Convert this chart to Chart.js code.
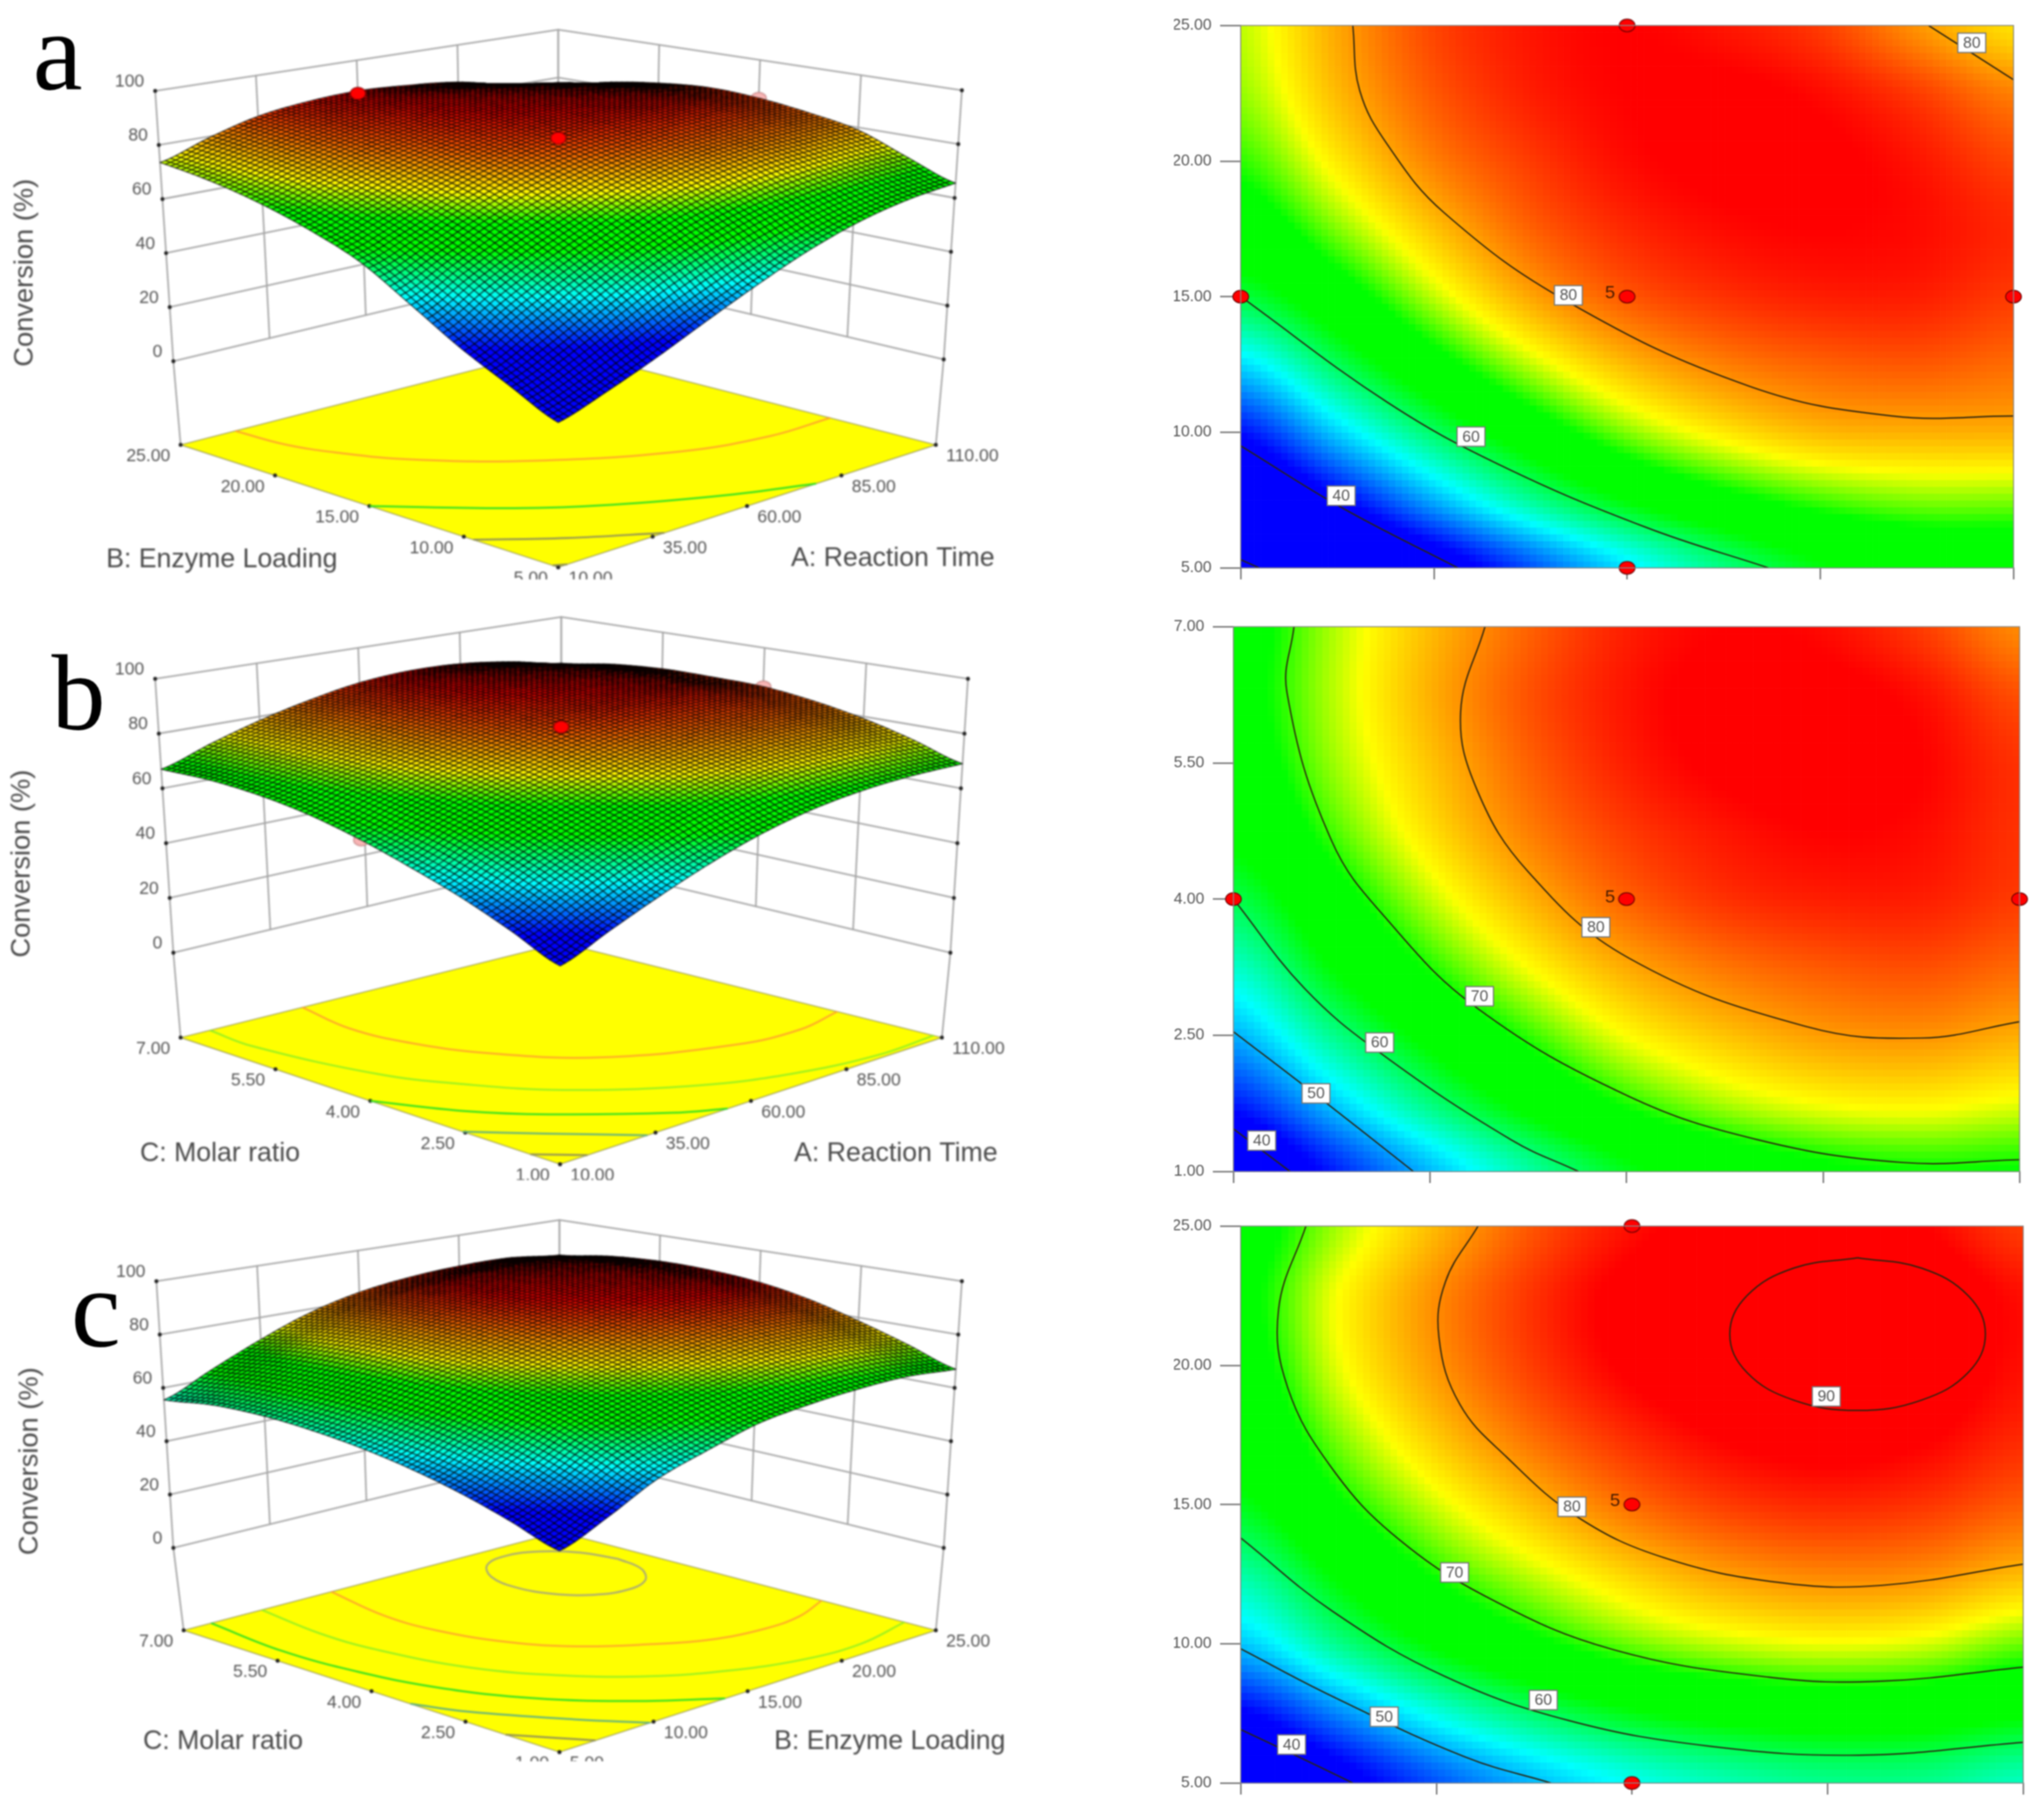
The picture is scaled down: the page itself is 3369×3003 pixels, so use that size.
<!DOCTYPE html>
<html><head><meta charset="utf-8">
<script src="https://cdn.jsdelivr.net/npm/chart.js@4"></script>
<style>
html,body{margin:0;padding:0;background:#fff}
#stage{position:relative;width:3369px;height:3003px;background:#fff;overflow:hidden}
canvas{position:absolute;display:block}
canvas.flat{filter:blur(1.1px)}
canvas.solid{filter:blur(1.7px)}
.tag{position:absolute;font-family:"Liberation Serif",serif;line-height:1;color:#000;filter:blur(1px)}
</style></head><body><div id="stage"></div>
<script>
// ---------- values ----------
const timeTicks   = [10,35,60,85,110];
const enzymeTicks = [5,10,15,20,25];
const molarTicks  = [1,2.5,4,5.5,7];
const conversionTicks = [0,20,40,60,80,100];

// Conversion (%) read at nine evenly spaced stops of each plot axis; one row per y stop (low to high), x stops left to right
const surfaceA = [
 [29,33.5,39,45.5,52,58,62.5,65,65.5],
 [35.5,41.5,49.5,57,63,67.5,70.5,72,72],
 [42.5,51,59,66,72,76,78.5,79,79],
 [51.5,59.5,67,73.5,78.5,81.5,83,83.5,82.5],
 [60.5,66.5,73.5,79.5,83.5,85.5,86.5,86.5,85],
 [66,72,78,83,86,87.5,88,87.5,86],
 [70,76,81.5,85,87.5,88.5,88.5,87,84.5],
 [72.5,78.5,83.5,86.5,88,88.5,87.5,85,81.5],
 [73.5,79.5,84.5,87,88,87,85,80.5,76.5]];
const surfaceB = [
 [36,43,50,56.5,62,66,68.3,69.2,69],
 [43,50.5,58,64.3,69.5,73,75,75.5,74.5],
 [49.5,57.3,64.3,70,75,78,80,80.5,79.2],
 [55,63,69.5,75,79.3,82,83.5,84,82.7],
 [60,67,73.5,78.8,83,85.5,86.5,86.5,85],
 [64,70.5,76.5,81.5,85,87,88,87.5,85.5],
 [66.5,72.5,78,83,86.5,88.5,89,88,85.5],
 [67.5,73.2,79,83.8,87,88.8,88.8,87.3,84],
 [67,73,78.5,83,86.5,88,87.5,85,81]];
const surfaceC = [
 [34,40,45.5,50,53.5,56,57.5,57.5,55.5],
 [41.5,47.8,54,58.8,62.3,64.5,65.5,65.2,63.5],
 [50.5,57.5,63.5,68,71.5,73.7,74.7,74,71.5],
 [56.5,63.5,69.5,73.7,77.3,80,81.2,80.7,78.5],
 [62,68.5,74,78.5,82.5,85,86,85.3,83.3],
 [65,72,77.8,82.5,86,88.3,89.2,88.3,86],
 [67,74.5,80.3,85,88.5,90.3,91,90,87.3],
 [68,75,80.8,85.5,89,90.7,91.2,90.3,87.3],
 [67,73,78.7,83.8,87.3,89,89.3,88,85]];

// Contour lines [x, y] in plot units
const contourA80  = [[24.5,25],[25.4,22.6],[29,20.6],[36.3,18.1],[52.4,14.8],[75.8,11.7],[94.3,10.6],[110,10.6]];
const contourA80b = [[99,25],[110,23]];
const contourA60  = [[10,15],[29,11.1],[43.5,8.8],[62.4,6.5],[78.3,5]];
const contourA40  = [[10,9.5],[23.2,7.2],[38.1,5]];
const contourA30  = [[10,5.3],[12.4,5]];
const contourB80  = [[42,7],[38.9,6.06],[41,5.2],[47.5,4.3],[60.3,3.35],[82.7,2.6],[97.5,2.47],[110,2.65]];
const contourB70  = [[17.7,7],[16.8,6.28],[22.5,4.64],[29.7,3.76],[41,2.8],[60,1.84],[76.7,1.35],[95,1.1],[110,1.13]];
const contourB60  = [[10,4],[19,3.02],[28.6,2.31],[45.3,1.35],[53.9,1]];
const contourB50  = [[10,2.54],[20.4,1.85],[32.9,1]];
const contourB40  = [[10,1.47],[17.2,1]];
const contourC90  = [[5.73,23.86],[6.22,23.49],[6.58,22.49],[6.71,21.12],[6.58,19.75],[6.22,18.75],[5.73,18.38],[5.24,18.75],[4.88,19.75],[4.75,21.12],[4.88,22.49],[5.24,23.49],[5.73,23.86]];
const contourC80  = [[2.82,25],[2.57,23],[2.52,21],[2.68,18.6],[3.04,16.7],[3.58,14.56],[4.24,13.1],[5.13,12.2],[5.92,12.1],[7,12.86]];
const contourC70  = [[1.5,25],[1.29,22],[1.36,19.2],[1.7,16.3],[2.2,13.8],[2.92,11.6],[3.85,9.8],[5.05,8.8],[5.92,8.66],[7,9.16]];
const contourC60  = [[1,13.8],[1.7,11.18],[2.56,8.84],[3.52,7.24],[4.6,6.32],[5.74,6],[7,6.46]];
const contourC50  = [[1,9.82],[1.7,8.12],[2.73,5.92],[3.38,5]];
const contourC40  = [[1,6.92],[1.39,6.06],[1.86,5]];

// Contour labels [x, y, text]
const labelsA = [[52.4,15.05,'80'],[104.6,24.36,'80'],[39.8,9.84,'60'],[23,7.66,'40']];
const labelsB = [[56.1,3.69,'80'],[41.3,2.93,'70'],[28.6,2.42,'60'],[20.5,1.86,'50'],[13.6,1.34,'40']];
const labelsC = [[5.49,18.88,'90'],[3.54,14.92,'80'],[2.64,12.56,'70'],[3.32,7.98,'60'],[2.1,7.38,'50'],[1.39,6.38,'40']];
// Design points on the contour plots [x, y]; the centre point carries the replicate count
const designA = [[60,25],[10,15],[60,15],[110,15],[60,5]];
const designB = [[10,4],[60,4],[110,4]];
const designC = [[4,25],[4,15],[4,5]];
const replicateA = [[57.8,15.12,'5']];
const replicateB = [[57.9,4.02,'5']];
const replicateC = [[3.87,15.12,'5']];
// Design points on the 3D plots [x, y, conversion]
const raisedA = [[60,25,87],[60,15,87.5]];
const sunkA   = [[110,15,85],[10,15,65],[60,5,57]];
const raisedB = [[60,4,85]];
const sunkB   = [[110,4,85],[10,4,60]];
const raisedC = [];
const sunkC   = [];

// ---------- styles ----------
const SANS='"Liberation Sans", Arial, sans-serif';
const colorStops=[[42,[0,0,255]],[53,[0,255,255]],[63,[0,255,0]],[69,[0,255,0]],[75,[255,255,0]],[88,[255,0,0]]];
const floorLineColors={90:'#a8a878',80:'#ffa82a',70:'#98f020',60:'#30e020',50:'#60b080',40:'#909058',30:'#909058'};
function ramp(v){
  if(v<=colorStops[0][0]) return colorStops[0][1];
  for(let i=1;i<colorStops.length;i++){
    if(v<=colorStops[i][0]){
      const [a,ca]=colorStops[i-1],[b,cb]=colorStops[i],f=(v-a)/(b-a);
      return ca.map((c,k)=>Math.round(c+(cb[k]-c)*f));
    }
  }
  return colorStops[colorStops.length-1][1];
}
const rgb=v=>{const c=ramp(v);return 'rgb('+c[0]+','+c[1]+','+c[2]+')';};
// smooth shading between the read stops (drawing only)
function cr(p0,p1,p2,p3,t){return 0.5*((2*p1)+(-p0+p2)*t+(2*p0-5*p1+4*p2-p3)*t*t+(-p0+3*p1-3*p2+p3)*t*t*t);}
function shade(g,u,v){
  const m=g.length-1,n=g[0].length-1;
  const fu=Math.min(u*n,n-1e-6),fv=Math.min(v*m,m-1e-6);
  const i=Math.floor(fu),j=Math.floor(fv),tu=fu-i,tv=fv-j;
  const at=(a,b)=>g[Math.max(0,Math.min(m,b))][Math.max(0,Math.min(n,a))];
  const col=k=>cr(at(k,j-1),at(k,j),at(k,j+1),at(k,j+2),tv);
  return cr(col(i-1),col(i),col(i+1),col(i+2),tu);
}
const stage=document.getElementById('stage');
function addCanvas(l,t,w,h,cls){const c=document.createElement('canvas');c.className=cls;c.width=w;c.height=h;c.style.left=l+'px';c.style.top=t+'px';c.style.width=w+'px';c.style.height=h+'px';stage.appendChild(c);return c;}
function discImage(w,h,fill,edge){const c=document.createElement('canvas');c.width=w+4;c.height=h+4;const x=c.getContext('2d');x.beginPath();x.ellipse(w/2+2,h/2+2,w/2,h/2,0,0,7);x.fillStyle=fill;x.fill();x.lineWidth=1.6;x.strokeStyle=edge;x.stroke();return c;}

// ---------- contour plots ----------
function contourChart(p){
  const m={left:110,bottom:32,top:22,right:22};
  const W=Math.round(p.rect.r-p.rect.l)+m.left+m.right,H=Math.round(p.rect.b-p.rect.t)+m.top+m.bottom;
  const cv=addCanvas(Math.round(p.rect.l)-m.left,Math.round(p.rect.t)-m.top,W,H,'flat');
  const heat={id:'heat',beforeDatasetsDraw(ch){
    const {ctx}=ch,sx=ch.scales.x,sy=ch.scales.y,NX=115,NY=80;
    for(let i=0;i<NX;i++)for(let j=0;j<NY;j++){
      const u=(i+.5)/NX,v=(j+.5)/NY;
      const x0=sx.getPixelForValue(sx.min+(sx.max-sx.min)*i/NX),x1=sx.getPixelForValue(sx.min+(sx.max-sx.min)*(i+1)/NX);
      const y0=sy.getPixelForValue(sy.min+(sy.max-sy.min)*(j+1)/NY),y1=sy.getPixelForValue(sy.min+(sy.max-sy.min)*j/NY);
      ctx.fillStyle=rgb(shade(p.grid,u,v));
      ctx.fillRect(x0,y0,x1-x0+.7,y1-y0+.7);
    }
  },afterDatasetsDraw(ch){
    const {ctx}=ch,sx=ch.scales.x,sy=ch.scales.y,a=ch.chartArea;
    ctx.strokeStyle='#8a8a8a';ctx.lineWidth=1.6;ctx.strokeRect(a.left,a.top,a.right-a.left,a.bottom-a.top);
    ctx.textAlign='center';ctx.textBaseline='middle';
    p.labels.forEach(([x,y,t])=>{
      const px=sx.getPixelForValue(x),py=sy.getPixelForValue(y);
      ctx.fillStyle='#fff';ctx.strokeStyle='#777';ctx.lineWidth=2;
      ctx.fillRect(px-23,py-16,46,32);ctx.strokeRect(px-23,py-16,46,32);
      ctx.fillStyle='#555';ctx.font='26px '+SANS;ctx.fillText(t,px,py+1);
    });
    p.replicate.forEach(([x,y,t])=>{
      ctx.fillStyle='#4a1c00';ctx.font='30px '+SANS;
      ctx.fillText(t,sx.getPixelForValue(x),sy.getPixelForValue(y));
    });
  }};
  const datasets=p.contours.map(([level,pts])=>({label:'Conversion '+level,data:pts.map(([x,y])=>({x,y})),showLine:true,borderColor:'#2a2410',borderWidth:2.2,pointRadius:0,tension:0.4,fill:false}));
  datasets.unshift({label:'Design points',data:p.design.map(([x,y])=>({x,y})),showLine:false,pointStyle:discImage(26,21,'#ff0000','#6a0000'),pointRadius:13,clip:false,order:-1});
  new Chart(cv,{type:'scatter',data:{datasets},plugins:[heat],options:{
    responsive:false,animation:false,devicePixelRatio:1,
    layout:{autoPadding:false,padding:{top:m.top,right:m.right}},
    plugins:{legend:{display:false},tooltip:{enabled:false}},
    scales:{
      x:{type:'linear',min:p.xTicks[0],max:p.xTicks[4],afterBuildTicks(s){s.ticks=p.xTicks.map(value=>({value}));},
         afterFit(s){s.height=m.bottom;s.paddingLeft=0;s.paddingRight=0;},
         border:{color:'#8a8a8a',width:2},grid:{drawOnChartArea:false,color:'#777',lineWidth:2.5,tickLength:19},ticks:{display:false}},
      y:{type:'linear',min:p.yTicks[0],max:p.yTicks[4],afterBuildTicks(s){s.ticks=p.yTicks.map(value=>({value}));},
         afterFit(s){s.width=m.left;s.paddingTop=0;s.paddingBottom=0;},
         border:{color:'#8a8a8a',width:2},grid:{drawOnChartArea:false,color:'#777',lineWidth:2.5,tickLength:34},
         ticks:{color:'#555',padding:14,font:{family:SANS,size:26},callback:v=>Number(v).toFixed(2)}}
    }}});
}

// ---------- 3D response surfaces ----------
function surfaceChart(p){
  const W=1700,H=p.cut-p.top;
  const cv=addCanvas(0,p.top,W,H,'solid');
  const V=p.view;
  const proj=(s,t,z,floor)=>{
    const col=c=>floor?c.floor:[c.zero[0]+(c.peak[0]-c.zero[0])*z/100,c.zero[1]+(c.peak[1]-c.zero[1])*z/100];
    const a=col(V.front),b=col(V.right),c=col(V.left),d=col(V.back);
    const w=[(1-s)*(1-t),s*(1-t),(1-s)*t,s*t];
    return {x:w[0]*a[0]+w[1]*b[0]+w[2]*c[0]+w[3]*d[0],y:(w[0]*a[1]+w[1]*b[1]+w[2]*c[1]+w[3]*d[1])-p.top};
  };
  const st=(x,y)=>{const u=(x-p.xTicks[0])/(p.xTicks[4]-p.xTicks[0]),v=(y-p.yTicks[0])/(p.yTicks[4]-p.yTicks[0]);return p.swap?[v,u]:[u,v];};
  const sc=ch=>({X:v=>ch.scales.x.getPixelForValue(v),Y:v=>ch.scales.y.getPixelForValue(v)});
  const frame={id:'frame',beforeDatasetsDraw(ch){
    const {ctx}=ch,{X,Y}=sc(ch);
    const line=(a,b)=>{ctx.beginPath();ctx.moveTo(X(a.x),Y(a.y));ctx.lineTo(X(b.x),Y(b.y));ctx.stroke();};
    ctx.strokeStyle='#a4a4a4';ctx.lineWidth=2.6;ctx.lineCap='round';
    conversionTicks.forEach(z=>{
      line(proj(0,1,z),proj(1,1,z));
      line(proj(1,0,z),proj(1,1,z));
    });
    [0,.25,.5,.75,1].forEach(f=>{
      line(proj(f,1,0),proj(f,1,100));
      line(proj(1,f,0),proj(1,f,100));
    });
    line(proj(0,1,0),proj(0,1,0,true));
    line(proj(1,0,0),proj(1,0,0,true));
    // floor
    const c=[proj(0,0,0,true),proj(1,0,0,true),proj(1,1,0,true),proj(0,1,0,true)];
    ctx.beginPath();c.forEach((q,i)=>i?ctx.lineTo(X(q.x),Y(q.y)):ctx.moveTo(X(q.x),Y(q.y)));ctx.closePath();
    ctx.fillStyle='#ffff00';ctx.fill();
    ctx.strokeStyle='#9a9a60';ctx.lineWidth=1.6;ctx.stroke();
    // axis text
    ctx.fillStyle='#555';ctx.font='29px '+SANS;ctx.textBaseline='middle';
    const dot=(q)=>{ctx.save();ctx.fillStyle='#222';ctx.beginPath();ctx.arc(X(q.x),Y(q.y),3.2,0,7);ctx.fill();ctx.restore();};
    ctx.textAlign='right';
    conversionTicks.forEach(z=>{const q=proj(0,1,z);dot(q);ctx.fillText(String(z),X(q.x)-18,Y(q.y)-15);const r=proj(1,0,z);dot(r);});
    p.leftTicks.forEach((v,i)=>{const q=proj(0,i/4,0,true);dot(q);ctx.fillText(v.toFixed(2),X(q.x)-17,Y(q.y)+19);});
    ctx.textAlign='left';
    p.rightTicks.forEach((v,i)=>{const q=proj(i/4,0,0,true);dot(q);ctx.fillText(v.toFixed(2),X(q.x)+17,Y(q.y)+19);});
    ctx.font='44px '+SANS;ctx.fillStyle='#4a4a4a';ctx.textAlign='center';
    ctx.fillText(p.leftTitle,p.leftTitleAt[0],p.leftTitleAt[1]-p.top);
    ctx.fillText(p.rightTitle,p.rightTitleAt[0],p.rightTitleAt[1]-p.top);
    ctx.save();ctx.translate(p.zTitleAt[0],p.zTitleAt[1]-p.top);ctx.rotate(-Math.PI/2);ctx.font='45px '+SANS;ctx.fillText('Conversion (%)',0,0);ctx.restore();
  }};
  const N=75;
  const paint={id:'paint',afterDatasetDraw(ch,args){
    if(!ch.data.datasets[args.index].surfaceAfter) return;
    const {ctx}=ch,{X,Y}=sc(ch);
    const P=[],Z=[];
    for(let i=0;i<=N;i++){P[i]=[];Z[i]=[];for(let j=0;j<=N;j++){
      const s=i/N,t=j/N,u=p.swap?t:s,v=p.swap?s:t,z=shade(p.grid,u,v),q=proj(s,t,z);
      Z[i][j]=z;P[i][j]=[X(q.x),Y(q.y)];
    }}
    ctx.lineWidth=1.4;ctx.strokeStyle='rgba(0,0,0,0.9)';ctx.lineJoin='round';
    for(let i=N-1;i>=0;i--)for(let j=N-1;j>=0;j--){
      const a=P[i][j],b=P[i+1][j],c=P[i+1][j+1],d=P[i][j+1];
      ctx.beginPath();ctx.moveTo(a[0],a[1]);ctx.lineTo(b[0],b[1]);ctx.lineTo(c[0],c[1]);ctx.lineTo(d[0],d[1]);ctx.closePath();
      ctx.fillStyle=rgb((Z[i][j]+Z[i+1][j]+Z[i+1][j+1]+Z[i][j+1])/4);
      ctx.fill();ctx.stroke();
    }
  }};
  const toPoint=([x,y,z])=>{const [s,t]=st(x,y);return proj(s,t,z);};
  const datasets=p.contours.map(([level,pts])=>({label:'Floor '+level,data:pts.map(([x,y])=>{const [s,t]=st(x,y);return proj(s,t,0,true);}),showLine:true,borderColor:floorLineColors[level],borderWidth:3,pointRadius:0,tension:0.4,order:5}));
  datasets.push({label:'Below surface',data:p.sunk.map(toPoint),showLine:false,pointStyle:discImage(25,19,'#f8b4b4','#c08080'),pointRadius:12,order:4,surfaceAfter:true});
  datasets.push({label:'Above surface',data:p.raised.map(toPoint),showLine:false,pointStyle:discImage(25,20,'#ff0000','#8a0000'),pointRadius:12,order:1});
  new Chart(cv,{type:'scatter',data:{datasets},plugins:[frame,paint],options:{
    responsive:false,animation:false,devicePixelRatio:1,
    layout:{autoPadding:false},
    plugins:{legend:{display:false},tooltip:{enabled:false}},
    scales:{x:{type:'linear',display:false,min:0,max:W},y:{type:'linear',display:false,min:0,max:H,reverse:true}}
  }});
}

// ---------- panels ----------
const contoursA=[[80,contourA80],[80,contourA80b],[60,contourA60],[40,contourA40],[30,contourA30]];
const contoursB=[[80,contourB80],[70,contourB70],[60,contourB60],[50,contourB50],[40,contourB40]];
const contoursC=[[90,contourC90],[80,contourC80],[70,contourC70],[60,contourC60],[50,contourC50],[40,contourC40]];

contourChart({rect:{l:2047,r:3322,t:42,b:937},grid:surfaceA,contours:contoursA,labels:labelsA,design:designA,replicate:replicateA,xTicks:timeTicks,yTicks:enzymeTicks});
contourChart({rect:{l:2035,r:3332,t:1034,b:1933},grid:surfaceB,contours:contoursB,labels:labelsB,design:designB,replicate:replicateB,xTicks:timeTicks,yTicks:molarTicks});
contourChart({rect:{l:2047,r:3338,t:2023,b:2942},grid:surfaceC,contours:contoursC,labels:labelsC,design:designC,replicate:replicateC,xTicks:molarTicks,yTicks:enzymeTicks});

surfaceChart({top:0,cut:956,grid:surfaceA,contours:contoursA,raised:raisedA,sunk:sunkA,xTicks:timeTicks,yTicks:enzymeTicks,swap:false,
  leftTicks:enzymeTicks,rightTicks:timeTicks,leftTitle:'B: Enzyme Loading',rightTitle:'A: Reaction Time',leftTitleAt:[366,924],rightTitleAt:[1473,922],zTitleAt:[42,450],
  view:{left:{peak:[256,150],zero:[286,596],floor:[298,734]},right:{peak:[1587,149],zero:[1557,593],floor:[1544,734]},back:{peak:[921,49],zero:[921,444],floor:[921,575]},front:{peak:[921,340],zero:[921,843],floor:[921,936]}}});
surfaceChart({top:1000,cut:1947,grid:surfaceB,contours:contoursB,raised:raisedB,sunk:sunkB,xTicks:timeTicks,yTicks:molarTicks,swap:false,
  leftTicks:molarTicks,rightTicks:timeTicks,leftTitle:'C: Molar ratio',rightTitle:'A: Reaction Time',leftTitleAt:[363,1904],rightTitleAt:[1478,1904],zTitleAt:[37,1425],
  view:{left:{peak:[256,1120],zero:[286,1572],floor:[298,1712]},right:{peak:[1597,1120],zero:[1568,1572],floor:[1554,1712]},back:{peak:[926,1018],zero:[926,1419],floor:[926,1556]},front:{peak:[924,1268],zero:[924,1777],floor:[924,1921]}}});
surfaceChart({top:1980,cut:2906,grid:surfaceC,contours:contoursC,raised:raisedC,sunk:sunkC,xTicks:molarTicks,yTicks:enzymeTicks,swap:true,
  leftTicks:molarTicks,rightTicks:enzymeTicks,leftTitle:'C: Molar ratio',rightTitle:'B: Enzyme Loading',leftTitleAt:[368,2874],rightTitleAt:[1468,2874],zTitleAt:[50,2411],
  view:{left:{peak:[258,2114],zero:[286,2554],floor:[303,2690]},right:{peak:[1587,2114],zero:[1557,2554],floor:[1544,2690]},back:{peak:[923,2013],zero:[923,2398],floor:[923,2528]},front:{peak:[923,2227],zero:[923,2730],floor:[923,2891]}}});

[['a',54,-8,185],['b',85,1054,178],['c',117,2066,185]].forEach(([t,l,top,size])=>{
  const d=document.createElement('div');d.className='tag';d.textContent=t;d.style.left=l+'px';d.style.top=top+'px';d.style.fontSize=size+'px';stage.appendChild(d);
});
</script></body></html>
